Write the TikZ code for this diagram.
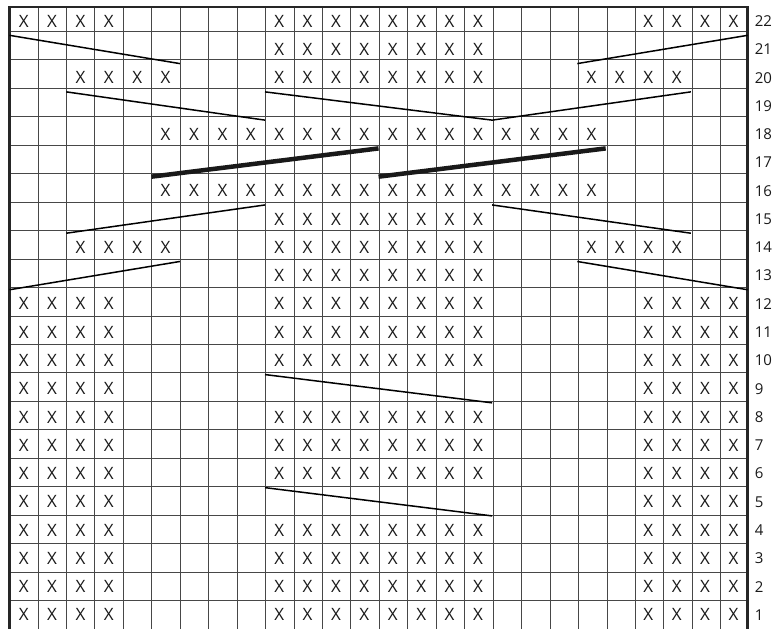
\documentclass[tikz,border=0pt]{standalone}
\usepackage{fontspec}
\setmainfont{Open Sans}
\begin{document}
\begin{tikzpicture}[x=28.39pt,y=28.27pt,
  gridline/.style={line width=0.9pt,draw=black!72},
  border/.style={line width=2.6pt,draw=black!85,line join=miter},
  cable/.style={line width=1.5pt,draw=black},
  crossbar/.style={line width=4.5pt,draw=black!90},
  knit/.style={font=\fontsize{17}{20}\selectfont,inner sep=0pt,text=black!90},
  rownum/.style={font=\fontsize{15}{18}\selectfont,anchor=west,inner sep=0pt,text=black!90,xshift=7pt}]
\path[use as bounding box] (-9.5pt,0pt) rectangle ++(779pt,629pt);
\draw[gridline] (0,0) grid (26,22);
\draw[border] (0,0) -- (0,22) -- (26,22) -- (26,0);
% stitches
\foreach \r/\cols in {
  1/{1,2,3,4,10,11,12,13,14,15,16,17,23,24,25,26},
  2/{1,2,3,4,10,11,12,13,14,15,16,17,23,24,25,26},
  3/{1,2,3,4,10,11,12,13,14,15,16,17,23,24,25,26},
  4/{1,2,3,4,10,11,12,13,14,15,16,17,23,24,25,26},
  5/{1,2,3,4,23,24,25,26},
  6/{1,2,3,4,10,11,12,13,14,15,16,17,23,24,25,26},
  7/{1,2,3,4,10,11,12,13,14,15,16,17,23,24,25,26},
  8/{1,2,3,4,10,11,12,13,14,15,16,17,23,24,25,26},
  9/{1,2,3,4,23,24,25,26},
  10/{1,2,3,4,10,11,12,13,14,15,16,17,23,24,25,26},
  11/{1,2,3,4,10,11,12,13,14,15,16,17,23,24,25,26},
  12/{1,2,3,4,10,11,12,13,14,15,16,17,23,24,25,26},
  13/{10,11,12,13,14,15,16,17},
  14/{3,4,5,6,10,11,12,13,14,15,16,17,21,22,23,24},
  15/{10,11,12,13,14,15,16,17},
  16/{6,7,8,9,10,11,12,13,14,15,16,17,18,19,20,21},
  18/{6,7,8,9,10,11,12,13,14,15,16,17,18,19,20,21},
  20/{3,4,5,6,10,11,12,13,14,15,16,17,21,22,23,24},
  21/{10,11,12,13,14,15,16,17},
  22/{1,2,3,4,10,11,12,13,14,15,16,17,23,24,25,26}}
{
  \foreach \c in \cols {
    \node[knit] (x-\r-\c) at (\c-0.5,\r-0.5) {X};
  }
}
% row numbers
\foreach \r in {1,...,22} {
  \node[rownum] (n-\r) at (26,\r-0.5) {\r};
}
% cable lines
\coordinate (a1) at (0,21);  \coordinate (a2) at (6,20);
\coordinate (b1) at (26,21); \coordinate (b2) at (20,20);
\coordinate (c1) at (2,19);  \coordinate (c2) at (9,18);
\coordinate (d1) at (9,19);  \coordinate (d2) at (17,18);
\coordinate (e1) at (24,19);
\coordinate (f1) at (5,16);  \coordinate (f2) at (13,17);
\coordinate (g1) at (13,16); \coordinate (g2) at (21,17);
\coordinate (h1) at (9,15);  \coordinate (h2) at (2,14);
\coordinate (i1) at (17,15); \coordinate (i2) at (24,14);
\coordinate (j1) at (6,13);  \coordinate (j2) at (0,12);
\coordinate (k1) at (20,13); \coordinate (k2) at (26,12);
\coordinate (l1) at (9,9);   \coordinate (l2) at (17,8);
\coordinate (m1) at (9,5);   \coordinate (m2) at (17,4);
\draw[cable] (a1) -- (a2);
\draw[cable] (b1) -- (b2);
\draw[cable] (c1) -- (c2);
\draw[cable] (d1) -- (d2) -- (e1);
\draw[crossbar] (f1) -- (f2);
\draw[crossbar] (g1) -- (g2);
\draw[cable] (h1) -- (h2);
\draw[cable] (i1) -- (i2);
\draw[cable] (j1) -- (j2);
\draw[cable] (k1) -- (k2);
\draw[cable] (l1) -- (l2);
\draw[cable] (m1) -- (m2);
\end{tikzpicture}
\end{document}
